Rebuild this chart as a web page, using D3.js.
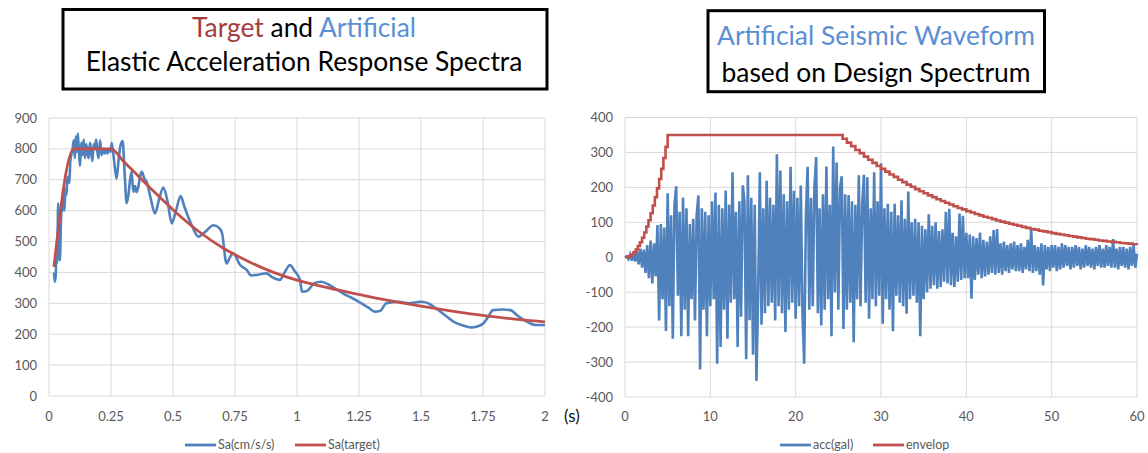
<!DOCTYPE html>
<html><head><meta charset="utf-8">
<script src="https://cdn.jsdelivr.net/npm/d3@7"></script>
<style>body{margin:0;background:#fff;} svg{display:block;font-family:Lato,'Open Sans',sans-serif;}</style>
</head><body><svg id="c" width="1148" height="453"></svg>
<script>
// ---------- DATA ----------
// Left chart: response spectra
const artificialPeriods = [0.02,0.023,0.027,0.03,0.033,0.037,0.04,0.044,0.048,0.052,0.056,0.058,0.062,0.066,0.07,0.074,0.078,0.082,0.086,0.091,0.095,0.1,0.104,0.108,0.112,0.116,0.12,0.125,0.13,0.135,0.14,0.145,0.15,0.155,0.16,0.165,0.17,0.175,0.18,0.185,0.19,0.195,0.2,0.206,0.212,0.218,0.224,0.23,0.236,0.242,0.248,0.253,0.26,0.267,0.273,0.28,0.288,0.297,0.305,0.313,0.32,0.327,0.333,0.34,0.347,0.353,0.36,0.367,0.374,0.384,0.394,0.41,0.427,0.445,0.461,0.478,0.495,0.512,0.531,0.545,0.556,0.58,0.602,0.629,0.663,0.685,0.697,0.716,0.73,0.743,0.77,0.797,0.815,0.837,0.857,0.877,0.9,0.931,0.95,0.972,0.99,1.012,1.02,1.04,1.07,1.097,1.13,1.16,1.19,1.22,1.26,1.29,1.313,1.335,1.36,1.41,1.45,1.5,1.53,1.56,1.6,1.633,1.67,1.7,1.73,1.75,1.77,1.79,1.83,1.86,1.89,1.915,1.94,1.96,2.0];
const artificialSa = [400,370,390,470,430,624,500,440,560,620,600,667,600,670,650,700,710,690,760,785,800,828,770,840,790,850,800,745,820,780,830,770,815,790,770,820,795,760,815,800,830,790,770,828,780,800,785,795,785,800,790,819,780,730,704,760,810,825,720,624,650,700,726,661,680,660,677,710,726,705,693,640,591,640,675,630,559,600,647,615,591,545,516,531,553,545,530,429,450,462,425,408,390,392,395,397,385,376,400,424,405,376,338,340,365,370,360,345,330,318,300,285,273,275,300,305,300,305,300,284,260,240,228,222,226,234,255,278,280,278,260,246,235,230,230];
const targetPeriods = [0.02,0.1,0.25,0.3,0.35,0.4,0.45,0.5,0.6,0.7,0.8,0.9,1.0,1.1,1.2,1.3,1.4,1.5,1.6,1.7,1.8,1.9,2.0];
const targetSa = [418,800,800,760,720,680,641,603,535,480,437,402,375,355,337,320,305,291,278,266,256,247,240];

// Right chart: artificial waveform sampled every 0.2 s, and envelope
const waveDt = 0.2;
const accGal = [
0,3,-5,8,-10,14,-12,18,-20,25,
-30,22,-45,35,-60,48,-75,40,-55,92,
-181,95,-120,85,-211,183,-140,120,-233,150,
203,-110,130,-226,171,-150,140,-226,95,-120,
110,-181,120,177,-321,140,-150,130,-226,120,
-140,160,-120,185,-305,150,-257,140,-150,191,
-233,150,-130,243,-120,130,-257,160,-170,206,
160,-292,235,-180,170,-279,150,-354,-110,243,
-193,140,-160,219,-140,170,-130,150,-181,295,
-140,248,-160,180,-214,160,-150,259,-130,190,
-176,170,-140,205,-160,-305,120,259,-150,170,
-140,200,287,-160,140,-195,180,-150,260,-120,
150,-226,317,-100,271,-150,200,232,-205,180,
-150,178,-130,160,-243,150,-120,235,-140,150,
236,-130,229,-176,140,-120,243,-140,160,-110,
269,-190,140,-120,153,-150,130,-212,153,-110,
120,-130,163,-140,110,-162,188,-120,100,-110,
110,-130,100,-226,90,-120,80,-100,123,-90,
90,-80,100,-90,75,-85,80,-70,130,-75,
139,-80,70,-85,60,-70,125,-65,119,-60,
70,-60,65,-119,60,-65,55,-50,71,-60,
50,-55,45,-50,60,-45,78,-50,81,-45,
40,-50,45,-40,35,-45,40,-35,45,-40,
35,-40,40,-45,30,-35,50,-40,81,-45,
35,-40,30,-50,40,-81,35,-35,30,-40,
35,-30,35,-40,30,-35,40,-30,35,-25,
30,-35,30,-30,35,-25,30,-35,25,-30,
35,-25,30,-30,25,-35,30,-25,35,-30,
25,-30,35,-25,30,-30,52,-30,25,-35,
30,-25,30,-30,25,-35,30,-25,35,-30,
10];
const envelopTimes = [0,0.25,0.5,0.75,1,1.25,1.5,1.75,2,2.25,2.5,2.75,3,3.25,3.5,3.75,4,4.25,4.5,4.75,5,
25,25.5,26,26.5,27,27.5,28,28.5,29,29.5,30,30.5,31,31.5,32,32.5,33,33.5,34,34.5,35,35.5,36,36.5,37,37.5,38,38.5,39,39.5,
40,40.5,41,41.5,42,42.5,43,43.5,44,44.5,45,45.5,46,46.5,47,47.5,48,48.5,49,49.5,50,50.5,51,51.5,52,52.5,53,53.5,54,54.5,
55,55.5,56,56.5,57,57.5,58,58.5,59,59.5,60];
const envelopValues = [0,1,3,8,14,22,32,43,56,71,88,106,126,148,172,197,224,253,284,316,350,
350,339,328,318,307,298,288,279,270,261,253,245,237,230,222,215,208,202,195,189,183,177,172,166,161,156,151,146,141,137,
132,128,124,120,116,113,109,105,102,99,96,93,90,87,84,81,79,76,74,72,69,67,65,63,61,59,57,55,53,52,
50,48,47,45,44,43,41,40,39,37,36];

// Axis ticks / labels
const leftYTicks = [0,100,200,300,400,500,600,700,800,900];
const leftXTicks = [0,0.25,0.5,0.75,1,1.25,1.5,1.75,2];
const leftXTickLabels = ["0","0.25","0.5","0.75","1","1.25","1.5","1.75","2"];
const rightYTicks = [-400,-300,-200,-100,0,100,200,300,400];
const rightXTicks = [0,10,20,30,40,50,60];
const leftLegend = ["Sa(cm/s/s)","Sa(target)"];
const rightLegend = ["acc(gal)","envelop"];

// ---------- STYLE ----------
const BLUE = "#4F81BD", RED = "#C0504D", GRID = "#D9D9D9", TICK = "#595959";
const TITLE_RED = "#A33D3B", TITLE_BLUE = "#5B8FD4";

const svg = d3.select("#c");

function drawPanel(o){
  const g = svg.append("g");
  g.selectAll(".hg").data(o.yTicks).enter().append("line")
    .attr("x1", o.x.range()[0]).attr("x2", o.x.range()[1])
    .attr("y1", d=>o.y(d)).attr("y2", d=>o.y(d))
    .attr("stroke", GRID).attr("stroke-width",1);
  g.selectAll(".vg").data(o.xTicks).enter().append("line")
    .attr("y1", o.y.range()[0]).attr("y2", o.y.range()[1])
    .attr("x1", d=>o.x(d)).attr("x2", d=>o.x(d))
    .attr("stroke", GRID).attr("stroke-width",1);
  g.selectAll(".yl").data(o.yTicks).enter().append("text")
    .attr("x", o.x.range()[0]-12).attr("y", d=>o.y(d)).attr("dy","0.35em")
    .attr("text-anchor","end").attr("font-size",13).attr("fill",TICK)
    .text(d=>String(d));
  g.selectAll(".xl").data(o.xTicks).enter().append("text")
    .attr("x", d=>o.x(d)).attr("y", 416).attr("dy","0.35em")
    .attr("text-anchor","middle").attr("font-size",13).attr("fill",TICK)
    .text((d,i)=>o.xLabels[i]);
  return g;
}

// LEFT
const xL = d3.scaleLinear().domain([0,2]).range([49,545]);
const yL = d3.scaleLinear().domain([0,900]).range([396,118]);
const gL = drawPanel({x:xL,y:yL,xTicks:leftXTicks,yTicks:leftYTicks,xLabels:leftXTickLabels});
gL.append("path").datum(artificialPeriods.map((t,i)=>[t,artificialSa[i]]))
  .attr("d", d3.line().x(d=>xL(d[0])).y(d=>yL(d[1])).curve(d3.curveMonotoneX))
  .attr("fill","none").attr("stroke",BLUE).attr("stroke-width",2.6).attr("stroke-linejoin","round");
gL.append("path").datum(targetPeriods.map((t,i)=>[t,targetSa[i]]))
  .attr("d", d3.line().x(d=>xL(d[0])).y(d=>yL(d[1])).curve(d3.curveMonotoneX))
  .attr("fill","none").attr("stroke",RED).attr("stroke-width",2.8).attr("stroke-linejoin","round");

// RIGHT
const xR = d3.scaleLinear().domain([0,60]).range([625,1137]);
const yR = d3.scaleLinear().domain([-400,400]).range([397,117.5]);
const gR = drawPanel({x:xR,y:yR,xTicks:rightXTicks,yTicks:rightYTicks,xLabels:rightXTicks.map(String)});
gR.append("path").datum(accGal.map((v,i)=>[i*waveDt,v]))
  .attr("d", d3.line().x(d=>xR(d[0])).y(d=>yR(d[1])))
  .attr("fill","none").attr("stroke",BLUE).attr("stroke-width",2.6).attr("stroke-linejoin","miter");
gR.append("path").datum(envelopTimes.map((t,i)=>[t,envelopValues[i]]))
  .attr("d", d3.line().x(d=>xR(d[0])).y(d=>yR(d[1])).curve(d3.curveStepAfter))
  .attr("fill","none").attr("stroke",RED).attr("stroke-width",2.6);

// (s) unit label
svg.append("text").attr("x",572).attr("y",416).attr("dy","0.35em").attr("text-anchor","middle")
  .attr("font-size",17).attr("fill","#111").text("(s)");

// Legends
function legend(items, colors, xs){
  items.forEach((name,i)=>{
    svg.append("line").attr("x1",xs[i]).attr("x2",xs[i]+31).attr("y1",445).attr("y2",445)
      .attr("stroke",colors[i]).attr("stroke-width",2.8);
    svg.append("text").attr("x",xs[i]+33).attr("y",445).attr("dy","0.35em")
      .attr("font-size",12.5).attr("fill",TICK).text(name);
  });
}
legend(leftLegend,[BLUE,RED],[185,295]);
legend(rightLegend,[BLUE,RED],[780,873]);

// Title boxes
function titleBox(rect, lines, fitIndex, fitWidth, cx){
  svg.append("rect").attr("x",rect[0]).attr("y",rect[1]).attr("width",rect[2]).attr("height",rect[3])
    .attr("fill","#fff").attr("stroke","#000").attr("stroke-width",3);
  const texts = lines.map(l=>{
    const t = svg.append("text").attr("x",cx).attr("y",l.y).attr("text-anchor","middle").attr("font-size",24);
    l.parts.forEach(p=>t.append("tspan").attr("fill",p[1]).text(p[0]));
    return t;
  });
  const w = texts[fitIndex].node().getComputedTextLength();
  const fs = 24*fitWidth/w;
  texts.forEach(t=>t.attr("font-size",fs));
}
titleBox([63,9.5,484,79.5],[
  {y:37,parts:[["Target",TITLE_RED],[" and ","#000"],["Artificial",TITLE_BLUE]]},
  {y:71,parts:[["Elastic Acceleration Response Spectra","#000"]]}
],1,437,304);
titleBox([708,10.7,336.5,81],[
  {y:45,parts:[["Artificial Seismic Waveform",TITLE_BLUE]]},
  {y:82,parts:[["based on Design Spectrum","#000"]]}
],0,318,876);
</script></body></html>
